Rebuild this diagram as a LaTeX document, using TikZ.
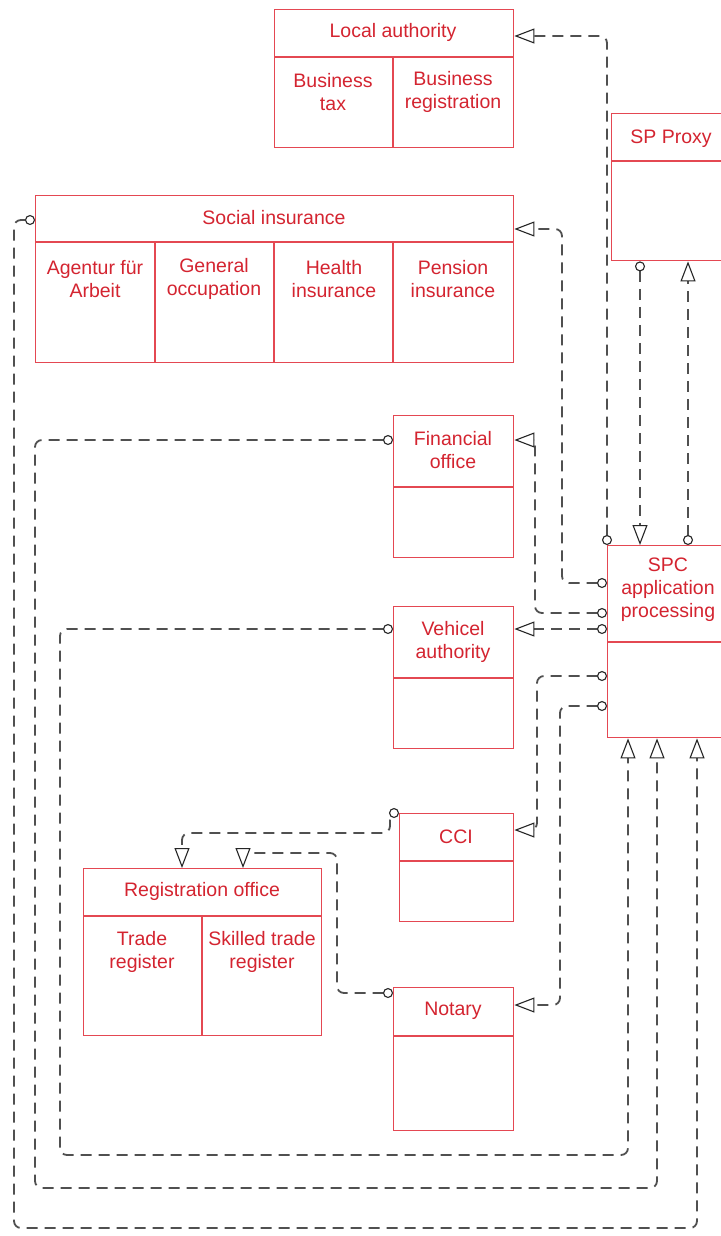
\documentclass[tikz,border=0pt]{standalone}
\usepackage{fontspec}
\setmainfont{Liberation Sans}
\usetikzlibrary{arrows.meta}
\definecolor{boxred}{RGB}{228,72,82}
\definecolor{textred}{RGB}{212,36,48}
\definecolor{linegray}{RGB}{80,80,80}
\begin{document}
\begin{tikzpicture}[x=1pt,y=-1pt,
  box/.style={draw=boxred, line width=1.4pt, rectangle, anchor=north west, inner sep=0pt},
  divider/.style={draw=boxred, line width=1.4pt},
  label/.style={text=textred, font=\fontsize{19.5}{23}\selectfont, align=center, inner sep=0pt},
  conn/.style={draw=linegray, line width=1.8pt, dash pattern=on 11pt off 7pt, rounded corners=7pt},
  circ/.tip={Circle[open, length=10pt, width=10pt, fill=white, line width=1.1pt, color=black!85]},
  tri/.tip={Triangle[open, length=20pt, width=15pt, fill=white, line width=1.1pt, color=black!85]},
]
\fill[white] (0,0) rectangle (720,1236);
\useasboundingbox (0,0) rectangle (720,1236);

% ---------- boxes ----------
\node[box, minimum width=239pt, minimum height=138pt] (local) at (274,9) {};
\node[box, minimum width=120pt, minimum height=147pt] (proxy) at (611,113) {};
\node[box, minimum width=478pt, minimum height=167pt] (social) at (35,195) {};
\node[box, minimum width=120pt, minimum height=142pt] (fin) at (393,415) {};
\node[box, minimum width=120pt, minimum height=142pt] (veh) at (393,606) {};
\node[box, minimum width=122pt, minimum height=192pt] (spc) at (607,545) {};
\node[box, minimum width=114pt, minimum height=108pt] (cci) at (399,813) {};
\node[box, minimum width=238pt, minimum height=167pt] (reg) at (83,868) {};
\node[box, minimum width=120pt, minimum height=143pt] (notary) at (393,987) {};

% header lines and compartments
\draw[divider] ([yshift=-48pt]local.north west) -- ([yshift=-48pt]local.north east);
\draw[divider] ([shift={(119pt,-48pt)}]local.north west) -- ([xshift=119pt]local.south west);
\draw[divider] ([yshift=-48pt]proxy.north west) -- ([yshift=-48pt]proxy.north east);
\draw[divider] ([yshift=-47pt]social.north west) -- ([yshift=-47pt]social.north east);
\foreach \dx in {120,239,358}
  \draw[divider] ([shift={(\dx pt,-47pt)}]social.north west) -- ([xshift=\dx pt]social.south west);
\draw[divider] ([yshift=-72pt]fin.north west) -- ([yshift=-72pt]fin.north east);
\draw[divider] ([yshift=-72pt]veh.north west) -- ([yshift=-72pt]veh.north east);
\draw[divider] ([yshift=-97pt]spc.north west) -- ([yshift=-97pt]spc.north east);
\draw[divider] ([yshift=-48pt]cci.north west) -- ([yshift=-48pt]cci.north east);
\draw[divider] ([yshift=-48pt]reg.north west) -- ([yshift=-48pt]reg.north east);
\draw[divider] ([shift={(119pt,-48pt)}]reg.north west) -- ([xshift=119pt]reg.south west);
\draw[divider] ([yshift=-49pt]notary.north west) -- ([yshift=-49pt]notary.north east);

% ---------- labels ----------
\node[label] (t-local) at (393,32) {Local authority};
\node[label] (t-btax) at (333,92) {Business\\tax};
\node[label] (t-breg) at (453,92) {Business\\registration};
\node[label] (t-proxy) at (671,139) {SP Proxy};
\node[label] (t-social) at (274,218) {Social insurance};
\node[label] (t-afa) at (95,279) {Agentur für\\Arbeit};
\node[label] (t-gen) at (214,279) {General\\occupation};
\node[label] (t-health) at (334,279) {Health\\insurance};
\node[label] (t-pension) at (453,279) {Pension\\insurance};
\node[label] (t-fin) at (453,450) {Financial\\office};
\node[label] (t-veh) at (453,642) {Vehicel\\authority};
\node[label] (t-spc) at (668,590) {SPC\\application\\processing};
\node[label] (t-cci) at (456,837) {CCI};
\node[label] (t-reg) at (202,891) {Registration office};
\node[label] (t-trade) at (142,952) {Trade\\register};
\node[label] (t-skilled) at (262,952) {Skilled trade\\register};
\node[label] (t-notary) at (453,1011) {Notary};

% ---------- connectors ----------
\draw[conn, circ-tri] (spc.north west) |- ([yshift=-27pt]local.north east);
\draw[conn, circ-tri] ([yshift=-38pt]spc.north west) -- ++(-45,0) |- ([yshift=-34pt]social.north east);
\draw[conn, circ-tri] ([yshift=-68pt]spc.north west) -- ++(-72,0) |- ([yshift=-25pt]fin.north east);
\draw[conn, circ-tri] ([yshift=-84pt]spc.north west) -- ([yshift=-23pt]veh.north east);
\draw[conn, circ-tri] ([yshift=-131pt]spc.north west) -- ++(-70,0) |- ([yshift=-17pt]cci.north east);
\draw[conn, circ-tri] ([yshift=-161pt]spc.north west) -- ++(-47,0) |- ([yshift=-18pt]notary.north east);

\draw[conn, circ-tri] ([xshift=29pt]proxy.south west) coordinate (pa) -- (pa |- spc.north);
\draw[conn, circ-tri] ([xshift=81pt]spc.north west) coordinate (pb) -- (pb |- proxy.south);

\draw[conn, circ-tri] ([yshift=-23pt]veh.north west) -- ++(-333,0) -- ++(0,526) -| ([xshift=21pt]spc.south west);
\draw[conn, circ-tri] ([yshift=-25pt]fin.north west) -- ++(-358,0) -- ++(0,748) -| ([xshift=50pt]spc.south west);
\draw[conn, circ-tri] ([yshift=-25pt]social.north west) -- ++(-21,0) -- ++(0,1008) -| ([xshift=90pt]spc.south west);

\draw[conn, circ-tri] (cci.north west) -- ++(-9,0) -- ++(0,20) -| ([xshift=99pt]reg.north west);
\draw[conn, circ-tri] ([yshift=-6pt]notary.north west) -- ++(-56,0) -- ++(0,-140) -| ([xshift=160pt]reg.north west);
\end{tikzpicture}
\end{document}
